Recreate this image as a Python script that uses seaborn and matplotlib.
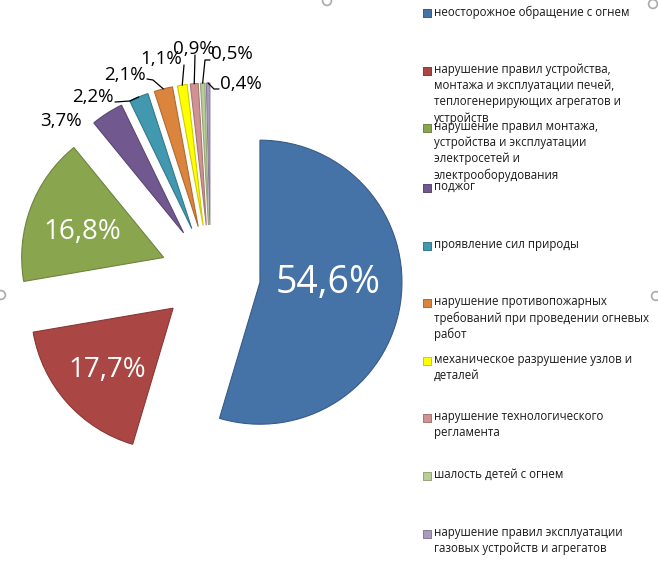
import numpy as np
import matplotlib
matplotlib.use("Agg")
import matplotlib.pyplot as plt
import seaborn as sns

# ---------------- data ----------------
categories = [
    "неосторожное обращение с огнем",
    "нарушение правил устройства,\nмонтажа и эксплуатации печей,\nтеплогенерирующих агрегатов и\nустройств",
    "нарушение правил монтажа,\nустройства и эксплуатации\nэлектросетей и\nэлектрооборудования",
    "поджог",
    "проявление сил природы",
    "нарушение противопожарных\nтребований при проведении огневых\nработ",
    "механическое разрушение узлов и\nдеталей",
    "нарушение технологического\nрегламента",
    "шалость детей с огнем",
    "нарушение правил эксплуатации\nгазовых устройств и агрегатов",
]
values = [54.6, 17.7, 16.8, 3.7, 2.2, 2.1, 1.1, 0.9, 0.5, 0.4]
value_labels = ["54,6%", "17,7%", "16,8%", "3,7%", "2,2%", "2,1%", "1,1%", "0,9%", "0,5%", "0,4%"]
colors = ["#4572A7", "#AA4643", "#89A54E", "#71588F", "#4198AF",
          "#DB843D", "#FFFF00", "#D19392", "#B9CD96", "#A99BBD"]

# ---------------- layout (pixels) ----------------
W, H = 658, 582
CX, CY, R = 210.5, 275.0, 142.0
EXPLODE = 0.352

label_px = [(328, 283), (107, 370), (82, 232), (61, 121), (93, 96.5),
            (125, 75), (161, 58.5), (194, 49.5), (232, 54), (241, 84)]
label_size = [27, 20, 20, 13.5, 13.5, 13.5, 13.5, 13.5, 13.5, 13.5]
label_color = ["white", "white", "white"] + ["black"] * 7
# leader line start / elbow points for labels (index -> points)
leader_pts = {
    4: [(115, 102), (130, 101)],
    5: [(147, 79), (153, 80)],
    6: [(184, 65)],
    7: [(195, 55)],
    8: [(210, 60), (205, 60)],
    9: [(219, 89), (214, 89)],
}
legend_y = [13, 71, 128, 188, 246, 303, 361, 418, 476, 534]
legend_marker_x = 427
legend_text_x = 434
handles_px = [(1, 295), (327, 1), (653, 4), (656, 296)]


def px2d(px, py):
    return (px - CX) / R, (CY - py) / R


sns.set_theme(style="white")
plt.rcParams["font.family"] = ["Open Sans", "DejaVu Sans"]

palette = sns.color_palette(colors)
edges = [tuple(np.array(c) * 0.8) for c in palette]

fig = plt.figure(figsize=(W / 100, H / 100), dpi=100)
ax = fig.add_axes([0, 0, 1, 1])

wedges, _ = ax.pie(values, explode=[EXPLODE] * len(values), colors=palette,
                   startangle=90, counterclock=False, radius=1.0,
                   wedgeprops=dict(linewidth=0.8))
for w, ec in zip(wedges, edges):
    w.set_edgecolor(ec)

ax.set_xlim(-CX / R, (W - CX) / R)
ax.set_ylim(-(H - CY) / R, CY / R)
ax.set_aspect("auto")
ax.axis("off")

# value labels
for i, (lab, (px, py)) in enumerate(zip(value_labels, label_px)):
    x, y = px2d(px, py)
    ax.text(x, y, lab, ha="center", va="center", fontsize=label_size[i],
            color=label_color[i])

# leader lines from labels to wedge outer edge
for i, pts in leader_pts.items():
    w = wedges[i]
    mid = np.deg2rad((w.theta1 + w.theta2) / 2)
    cx, cy = w.center
    end = (cx + w.r * np.cos(mid), cy + w.r * np.sin(mid))
    xs = [px2d(*p)[0] for p in pts] + [end[0]]
    ys = [px2d(*p)[1] for p in pts] + [end[1]]
    ax.plot(xs, ys, color="black", lw=0.9)

# legend
for i, cat in enumerate(categories):
    mx, my = px2d(legend_marker_x, legend_y[i])
    ax.scatter([mx], [my], marker="s", s=36, color=palette[i],
               edgecolor=edges[i], linewidth=0.7, clip_on=False, zorder=5)
    tx, ty = px2d(legend_text_x, legend_y[i] - 7.8)
    ax.text(tx, ty, cat, ha="left", va="top", fontsize=8.3, color="#1a1a1a",
            linespacing=1.31)

# chart selection handles
hx = [px2d(*p)[0] for p in handles_px]
hy = [px2d(*p)[1] for p in handles_px]
ax.scatter(hx, hy, s=40, facecolor="none", edgecolor="#aaaaaa", linewidth=1.2,
           clip_on=False, zorder=6)

fig.savefig("out.png", dpi=100)
